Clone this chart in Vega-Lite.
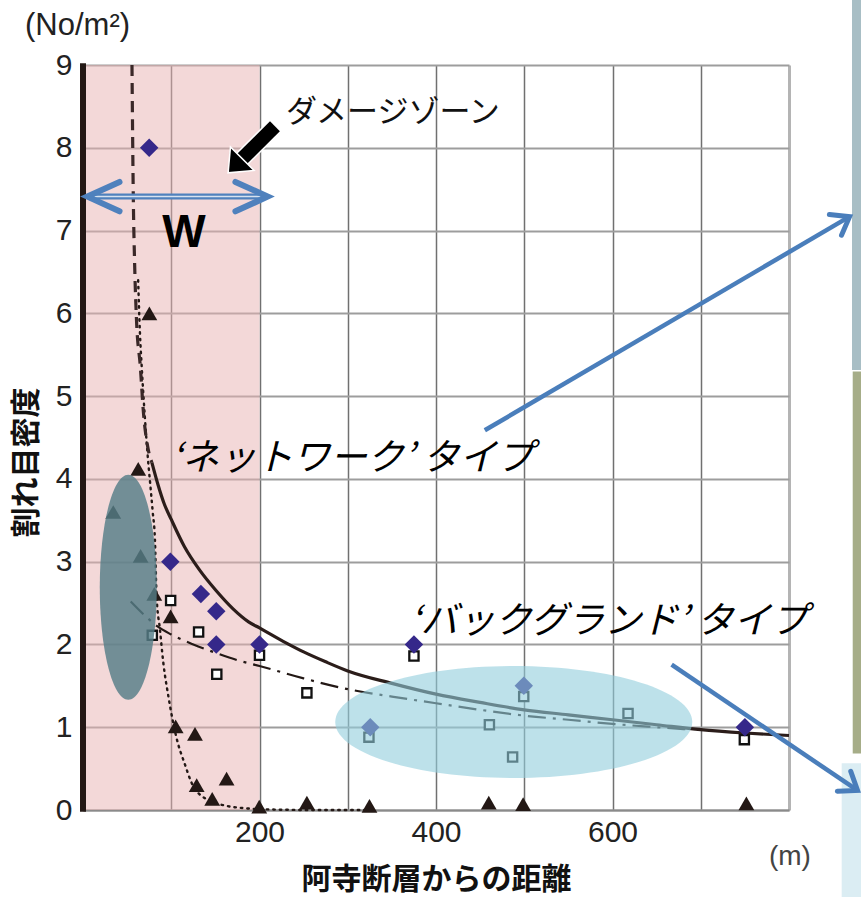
{
  "$schema": "https://vega.github.io/schema/vega-lite/v6.json",
  "width": 706,
  "height": 745,
  "autosize": "none",
  "padding": {"left": 83, "top": 65, "right": 72, "bottom": 87},
  "background": "white",
  "config": {"view": {"stroke": null}, "font": "Liberation Sans"},
  "datasets": {
    "zone": [{"x": 0, "x2": 200, "y": 0, "y2": 9}],
    "panels": [
      {"p": "a", "x": 871.4, "x2": 890, "y": 5.315, "y2": 10.2},
      {"p": "b", "x": 872.2, "x2": 890, "y": 0.682, "y2": 5.296},
      {"p": "c", "x": 859.7, "x2": 890, "y": -1.2, "y2": 0.565}
    ],
    "leftaxis": [{"x": 0, "y": -0.02, "y2": 9.02}],
    "curves": [
      {"c": "dashed", "x": 55.5, "y": 9.0},
      {"c": "dashed", "x": 57, "y": 7.4},
      {"c": "dashed", "x": 58.5, "y": 6.6},
      {"c": "dashed", "x": 60.5, "y": 5.95},
      {"c": "dashed", "x": 65, "y": 5.35},
      {"c": "dashed", "x": 68.5, "y": 4.8},
      {"c": "dashed", "x": 74, "y": 4.35},
      {"c": "dashed", "x": 78, "y": 4.2},
      {"c": "solid", "x": 78, "y": 4.2},
      {"c": "solid", "x": 85, "y": 3.93},
      {"c": "solid", "x": 92, "y": 3.7},
      {"c": "solid", "x": 100, "y": 3.51},
      {"c": "solid", "x": 115, "y": 3.18},
      {"c": "solid", "x": 132, "y": 2.9},
      {"c": "solid", "x": 150, "y": 2.66},
      {"c": "solid", "x": 170, "y": 2.43},
      {"c": "solid", "x": 188, "y": 2.27},
      {"c": "solid", "x": 200, "y": 2.2},
      {"c": "solid", "x": 230, "y": 2.02},
      {"c": "solid", "x": 250, "y": 1.91},
      {"c": "solid", "x": 275, "y": 1.79},
      {"c": "solid", "x": 300, "y": 1.68},
      {"c": "solid", "x": 350, "y": 1.53},
      {"c": "solid", "x": 400, "y": 1.4},
      {"c": "solid", "x": 450, "y": 1.3},
      {"c": "solid", "x": 500, "y": 1.21},
      {"c": "solid", "x": 550, "y": 1.15},
      {"c": "solid", "x": 600, "y": 1.09},
      {"c": "solid", "x": 650, "y": 1.03},
      {"c": "solid", "x": 700, "y": 0.97},
      {"c": "solid", "x": 750, "y": 0.93},
      {"c": "solid", "x": 800, "y": 0.9},
      {"c": "dashdot", "x": 54, "y": 2.52},
      {"c": "dashdot", "x": 70, "y": 2.35},
      {"c": "dashdot", "x": 84, "y": 2.22},
      {"c": "dashdot", "x": 100, "y": 2.12},
      {"c": "dashdot", "x": 125, "y": 2.0},
      {"c": "dashdot", "x": 150, "y": 1.9},
      {"c": "dashdot", "x": 175, "y": 1.81},
      {"c": "dashdot", "x": 200, "y": 1.74},
      {"c": "dashdot", "x": 250, "y": 1.59},
      {"c": "dashdot", "x": 300, "y": 1.46},
      {"c": "dashdot", "x": 350, "y": 1.37},
      {"c": "dashdot", "x": 400, "y": 1.29},
      {"c": "dashdot", "x": 450, "y": 1.21},
      {"c": "dashdot", "x": 500, "y": 1.14},
      {"c": "dashdot", "x": 550, "y": 1.09},
      {"c": "dashdot", "x": 600, "y": 1.04},
      {"c": "dashdot", "x": 650, "y": 1.0},
      {"c": "dashdot", "x": 690, "y": 0.97},
      {"c": "dotted", "x": 62.5, "y": 6.4},
      {"c": "dotted", "x": 64.5, "y": 5.77},
      {"c": "dotted", "x": 66.5, "y": 5.36},
      {"c": "dotted", "x": 70, "y": 4.76},
      {"c": "dotted", "x": 74, "y": 4.19},
      {"c": "dotted", "x": 76, "y": 3.96},
      {"c": "dotted", "x": 79, "y": 3.6},
      {"c": "dotted", "x": 81.5, "y": 3.27},
      {"c": "dotted", "x": 83.4, "y": 2.58},
      {"c": "dotted", "x": 87.2, "y": 2.18},
      {"c": "dotted", "x": 91, "y": 1.78},
      {"c": "dotted", "x": 96.8, "y": 1.37},
      {"c": "dotted", "x": 106, "y": 0.87},
      {"c": "dotted", "x": 115.5, "y": 0.55},
      {"c": "dotted", "x": 123, "y": 0.33},
      {"c": "dotted", "x": 140, "y": 0.13},
      {"c": "dotted", "x": 162.7, "y": 0.05},
      {"c": "dotted", "x": 185, "y": 0.02},
      {"c": "dotted", "x": 200, "y": 0.01},
      {"c": "dotted", "x": 260, "y": 0.0},
      {"c": "dotted", "x": 325, "y": 0.0}
    ],
    "squares": [
      {"x": 99.3, "y": 2.53}, {"x": 78.5, "y": 2.11}, {"x": 131, "y": 2.15},
      {"x": 151.6, "y": 1.64}, {"x": 200, "y": 1.87}, {"x": 253.7, "y": 1.415},
      {"x": 324, "y": 0.88}, {"x": 375, "y": 1.86}, {"x": 499.4, "y": 1.37},
      {"x": 460.5, "y": 1.03}, {"x": 486.8, "y": 0.64}, {"x": 617.6, "y": 1.165},
      {"x": 749.4, "y": 0.85}
    ],
    "triangles": [
      {"x": 75.2, "y": 6.0}, {"x": 62.6, "y": 4.12}, {"x": 34.3, "y": 3.6},
      {"x": 65.3, "y": 3.07}, {"x": 80.8, "y": 2.61}, {"x": 99.3, "y": 2.34},
      {"x": 105, "y": 1.01}, {"x": 126.9, "y": 0.92}, {"x": 128.8, "y": 0.3},
      {"x": 146.4, "y": 0.135}, {"x": 162.7, "y": 0.38}, {"x": 199.7, "y": 0.04},
      {"x": 253.7, "y": 0.09}, {"x": 324.6, "y": 0.05}, {"x": 459.8, "y": 0.09},
      {"x": 498.7, "y": 0.07}, {"x": 751.7, "y": 0.08}
    ],
    "diamonds": [
      {"x": 75, "y": 8.0}, {"x": 99, "y": 3.0}, {"x": 133.6, "y": 2.61},
      {"x": 151, "y": 2.4}, {"x": 151, "y": 2.0}, {"x": 200, "y": 2.0},
      {"x": 375, "y": 2.0}, {"x": 325.5, "y": 1.0}, {"x": 499.5, "y": 1.5},
      {"x": 750, "y": 1.0}
    ],
    "ellipseNetwork": [{"x": 51.3, "y": 2.69}],
    "ellipseBackground": [{"x": 488.1, "y": 1.063}],
    "blackShaft": [{"x": 217.5, "y": 8.26, "x2": 177.8, "y2": 7.84}],
    "blackHead": [{"x": 177.8, "y": 7.84}],
    "blueArrows": [
      {"x": 455.3, "y": 4.587, "x2": 868.6, "y2": 7.168},
      {"x": 667, "y": 1.757, "x2": 877.7, "y2": 0.236}
    ],
    "blueHead1": [{"x": 868.6, "y": 7.168}],
    "blueHead2": [{"x": 877.7, "y": 0.236}],
    "wShaft": [{"x": 7, "x2": 207, "y": 7.41}],
    "wLeft": [{"x": 4.9, "y": 7.41}],
    "wRight": [{"x": 209.2, "y": 7.41}],
    "textDamage": [{"x": 230, "y": 8.418, "t": "ダメージゾーン"}],
    "textW": [{"x": 114.5, "y": 6.806, "t": "W"}],
    "textTypes": [
      {"x": 100.5, "y": 4.245, "t": "‘ネットワーク’ タイプ"},
      {"x": 371, "y": 2.273, "t": "‘バックグランド’ タイプ"}
    ],
    "textUnitY": [{"x": -65.7, "y": 9.366, "t": "(No/m²)"}],
    "textUnitX": [{"x": 801, "y": -0.57, "t": "(m)"}]
  },
  "encoding": {
    "x": {
      "field": "x",
      "type": "quantitative",
      "scale": {"domain": [0, 800], "nice": false, "zero": false},
      "axis": {
        "values": [100, 200, 300, 400, 500, 600, 700, 800],
        "labelExpr": "datum.value == 200 || datum.value == 400 || datum.value == 600 ? datum.label : ''",
        "ticks": false,
        "domainColor": "#8a8a8a",
        "domainWidth": 2,
        "gridColor": {"condition": {"test": "datum.value == 800", "value": "#b4b4b4"}, "value": "#707070"},
        "gridWidth": {"condition": {"test": "datum.value == 800", "value": 3}, "value": 1.5},
        "labelFont": "Liberation Sans",
        "labelFontSize": 30,
        "labelColor": "#222222",
        "labelPadding": 7,
        "title": "阿寺断層からの距離",
        "titleFont": "Noto Sans CJK JP",
        "titleFontSize": 30,
        "titleFontWeight": "bold",
        "titleColor": "#111111",
        "titleY": 69,
        "titleBaseline": "middle"
      }
    },
    "y": {
      "field": "y",
      "type": "quantitative",
      "scale": {"domain": [0, 9], "nice": false, "zero": false},
      "axis": {
        "values": [0, 1, 2, 3, 4, 5, 6, 7, 8, 9],
        "ticks": false,
        "domain": false,
        "gridColor": "#9d9d9d",
        "gridWidth": 2,
        "labelFont": "Liberation Sans",
        "labelFontSize": 30,
        "labelColor": "#222222",
        "labelPadding": 11,
        "title": "割れ目密度",
        "titleFont": "Noto Sans CJK JP",
        "titleFontSize": 30,
        "titleFontWeight": "bold",
        "titleColor": "#111111",
        "titleAngle": 270,
        "titleX": -57,
        "titleY": 397,
        "titleAlign": "center",
        "titleBaseline": "middle"
      }
    }
  },
  "layer": [
    {
      "data": {"name": "zone"},
      "mark": {"type": "rect", "fill": "#e8b2b2", "opacity": 0.5},
      "encoding": {"x2": {"field": "x2"}, "y2": {"field": "y2"}}
    },
    {
      "data": {"name": "panels"},
      "mark": {"type": "rect"},
      "encoding": {
        "x2": {"field": "x2"},
        "y2": {"field": "y2"},
        "color": {"field": "p", "type": "nominal", "scale": {"domain": ["a", "b", "c"], "range": ["#a8bec5", "#a6ad88", "#dbedf3"]}, "legend": null}
      }
    },
    {
      "data": {"name": "leftaxis"},
      "mark": {"type": "rule", "stroke": "#231815", "strokeWidth": 6},
      "encoding": {"y2": {"field": "y2"}}
    },
    {
      "data": {"name": "curves"},
      "transform": [{"filter": "datum.c === 'dotted'"}],
      "mark": {"type": "line", "interpolate": "monotone", "stroke": "#231815", "strokeWidth": 2.4, "strokeDash": [1.5, 5], "strokeCap": "round"}
    },
    {
      "data": {"name": "curves"},
      "transform": [{"filter": "datum.c === 'dashdot'"}],
      "mark": {"type": "line", "interpolate": "monotone", "stroke": "#231815", "strokeWidth": 2.2, "strokeDash": [18, 7, 3, 7]}
    },
    {
      "data": {"name": "curves"},
      "transform": [{"filter": "datum.c === 'dashed'"}],
      "mark": {"type": "line", "interpolate": "monotone", "stroke": "#3a2828", "strokeWidth": 3.2, "strokeDash": [11, 7]}
    },
    {
      "data": {"name": "curves"},
      "transform": [{"filter": "datum.c === 'solid'"}],
      "mark": {"type": "line", "interpolate": "monotone", "stroke": "#2b1d1a", "strokeWidth": 3.2}
    },
    {
      "data": {"name": "squares"},
      "mark": {"type": "point", "shape": "square", "size": 85, "filled": true, "fill": "white", "stroke": "#111111", "strokeWidth": 2.3, "opacity": 1}
    },
    {
      "data": {"name": "triangles"},
      "mark": {"type": "point", "shape": "triangle-up", "size": 250, "filled": true, "color": "#231815", "opacity": 1}
    },
    {
      "data": {"name": "diamonds"},
      "mark": {"type": "point", "shape": "diamond", "size": 340, "filled": true, "color": "#35288a", "opacity": 1}
    },
    {
      "data": {"name": "ellipseNetwork"},
      "mark": {"type": "point", "shape": "M0,-1 C0.1399,-1 0.2533,-0.5523 0.2533,0 C0.2533,0.5523 0.1399,1 0,1 C-0.1399,1 -0.2533,0.5523 -0.2533,0 C-0.2533,-0.5523 -0.1399,-1 0,-1 Z", "size": 50625, "filled": true, "color": "#557e88", "opacity": 0.82, "strokeWidth": 0}
    },
    {
      "data": {"name": "ellipseBackground"},
      "mark": {"type": "point", "shape": "M-1,0 C-1,-0.1733 -0.5523,-0.3137 0,-0.3137 C0.5523,-0.3137 1,-0.1733 1,0 C1,0.1733 0.5523,0.3137 0,0.3137 C-0.5523,0.3137 -1,0.1733 -1,0 Z", "size": 127449, "filled": true, "color": "#91cddc", "opacity": 0.6, "strokeWidth": 0}
    },
    {
      "data": {"name": "blackShaft"},
      "mark": {"type": "rule", "stroke": "white", "strokeWidth": 17},
      "encoding": {"x2": {"field": "x2"}, "y2": {"field": "y2"}}
    },
    {
      "data": {"name": "blackShaft"},
      "mark": {"type": "rule", "stroke": "black", "strokeWidth": 14},
      "encoding": {"x2": {"field": "x2"}, "y2": {"field": "y2"}}
    },
    {
      "data": {"name": "blackHead"},
      "mark": {"type": "point", "shape": "M0,-1 L1,0.2 L-1,0.2 Z", "size": 1115, "angle": 225, "filled": true, "fill": "black", "stroke": "white", "strokeWidth": 1.5, "opacity": 1}
    },
    {
      "data": {"name": "blueArrows"},
      "mark": {"type": "rule", "stroke": "#4a7ebb", "strokeWidth": 4.5},
      "encoding": {"x2": {"field": "x2"}, "y2": {"field": "y2"}}
    },
    {
      "data": {"name": "blueHead1"},
      "mark": {"type": "point", "shape": "M-0.55,0.75 L0,0 L0.55,0.75", "size": 1900, "angle": 59.6, "filled": false, "color": "#4a7ebb", "strokeWidth": 5, "strokeCap": "round", "opacity": 1}
    },
    {
      "data": {"name": "blueHead2"},
      "mark": {"type": "point", "shape": "M-0.55,0.75 L0,0 L0.55,0.75", "size": 1900, "angle": 124.1, "filled": false, "color": "#4a7ebb", "strokeWidth": 5, "strokeCap": "round", "opacity": 1}
    },
    {
      "data": {"name": "wShaft"},
      "mark": {"type": "rule", "stroke": "#4f81bd", "strokeWidth": 6},
      "encoding": {"x2": {"field": "x2"}}
    },
    {
      "data": {"name": "wShaft"},
      "mark": {"type": "rule", "stroke": "#d6e2f0", "strokeWidth": 1.5},
      "encoding": {"x2": {"field": "x2"}}
    },
    {
      "data": {"name": "wLeft"},
      "mark": {"type": "point", "shape": "M-0.42,0.92 L0,0 L0.42,0.92", "size": 4900, "angle": 270, "filled": false, "color": "#4f81bd", "strokeWidth": 6, "strokeCap": "round", "opacity": 1}
    },
    {
      "data": {"name": "wRight"},
      "mark": {"type": "point", "shape": "M-0.42,0.92 L0,0 L0.42,0.92", "size": 4900, "angle": 90, "filled": false, "color": "#4f81bd", "strokeWidth": 6, "strokeCap": "round", "opacity": 1}
    },
    {
      "data": {"name": "textDamage"},
      "mark": {"type": "text", "font": "Noto Sans CJK JP", "fontSize": 31, "align": "left", "baseline": "middle", "color": "#111111"},
      "encoding": {"text": {"field": "t"}}
    },
    {
      "data": {"name": "textW"},
      "mark": {"type": "text", "font": "Liberation Sans", "fontSize": 46, "fontWeight": "bold", "align": "center", "baseline": "alphabetic", "color": "#000000"},
      "encoding": {"text": {"field": "t"}}
    },
    {
      "data": {"name": "textTypes"},
      "mark": {"type": "text", "font": "Noto Sans CJK JP", "fontSize": 37, "fontStyle": "italic", "align": "left", "baseline": "middle", "color": "#000000"},
      "encoding": {"text": {"field": "t"}}
    },
    {
      "data": {"name": "textUnitY"},
      "mark": {"type": "text", "font": "Liberation Sans", "fontSize": 31, "align": "left", "baseline": "alphabetic", "color": "#222222"},
      "encoding": {"text": {"field": "t"}}
    },
    {
      "data": {"name": "textUnitX"},
      "mark": {"type": "text", "font": "Liberation Sans", "fontSize": 28, "align": "center", "baseline": "middle", "color": "#444444"},
      "encoding": {"text": {"field": "t"}}
    }
  ]
}
